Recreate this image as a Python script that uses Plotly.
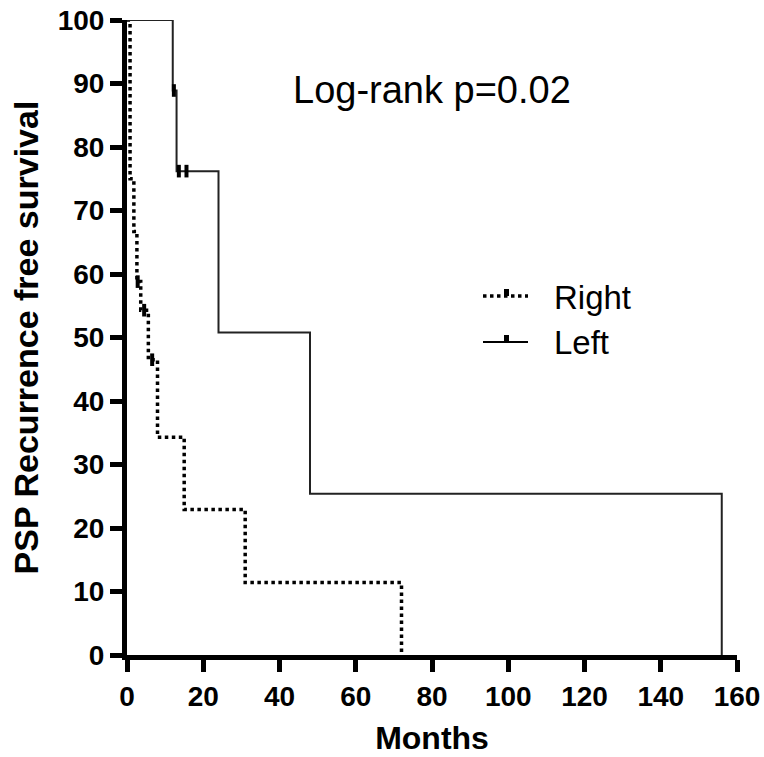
import plotly.graph_objects as go

# Kaplan-Meier step data (months, % recurrence-free)
right_t = [0, 0.8, 1.8, 2.6, 3.6, 5.6, 8, 15, 31, 72]
right_s = [100, 75, 66.7, 58.8, 54.3, 46.5, 34.3, 22.9, 11.4, 0]
right_cens_t = [2.8, 4.5, 6.6]
right_cens_s = [58.8, 54.3, 46.5]

left_t = [0, 12, 13, 24, 48, 156]
left_s = [100, 88.9, 76.2, 50.8, 25.4, 0]
left_cens_t = [12.3, 13.6, 15.6]
left_cens_s = [88.9, 76.2, 76.2]

x_ticks = [0, 20, 40, 60, 80, 100, 120, 140, 160]
y_ticks = [0, 10, 20, 30, 40, 50, 60, 70, 80, 90, 100]

FONT = "Liberation Sans"

fig = go.Figure()
fig.add_trace(go.Scatter(x=right_t, y=right_s, mode="lines", line_shape="hv",
                         line=dict(color="black", width=3.5, dash="dot"), name="Right",
                         showlegend=False))
fig.add_trace(go.Scatter(x=right_cens_t, y=right_cens_s, mode="markers",
                         marker=dict(symbol="line-ns", size=9, line=dict(color="black", width=4)),
                         showlegend=False))
fig.add_trace(go.Scatter(x=left_t, y=left_s, mode="lines", line_shape="hv",
                         line=dict(color="#222", width=2), name="Left", showlegend=False))
fig.add_trace(go.Scatter(x=left_cens_t, y=left_cens_s, mode="markers",
                         marker=dict(symbol="line-ns", size=9, line=dict(color="black", width=4)),
                         showlegend=False))

# Manual legend (paper coords; plot area spans page px x 127..737, y 20..655)
fig.add_shape(type="line", xref="paper", yref="paper", x0=(483-127)/610, x1=(528-127)/610,
              y0=(655-296)/635, y1=(655-296)/635, line=dict(color="black", width=3.5, dash="dot"))
fig.add_shape(type="line", xref="paper", yref="paper", x0=(483-127)/610, x1=(528-127)/610,
              y0=(655-342)/635, y1=(655-342)/635, line=dict(color="black", width=2))
for yy in (296, 342):
    fig.add_shape(type="rect", xref="paper", yref="paper",
                  x0=(504-127)/610, x1=(509-127)/610,
                  y0=(655-yy)/635, y1=(655-yy+7)/635,
                  fillcolor="black", line=dict(width=0))
fig.add_annotation(text="Right", xref="paper", yref="paper", x=(552-127)/610, y=(655-297)/635,
                   xanchor="left", yanchor="middle", showarrow=False,
                   font=dict(family=FONT, size=33, color="black"))
fig.add_annotation(text="Left", xref="paper", yref="paper", x=(552-127)/610, y=(655-342)/635,
                   xanchor="left", yanchor="middle", showarrow=False,
                   font=dict(family=FONT, size=33, color="black"))
fig.add_annotation(text="Log-rank p=0.02", xref="paper", yref="paper", x=(432-127)/610,
                   y=(655-90)/635, xanchor="center", yanchor="middle", showarrow=False,
                   font=dict(family=FONT, size=38, color="black"))

fig.update_layout(
    width=764, height=757,
    margin=dict(l=127, r=27, t=20, b=102, autoexpand=False),
    plot_bgcolor="white", paper_bgcolor="white",
    showlegend=False,
)
fig.update_xaxes(range=[0, 160], tickvals=x_ticks, showgrid=False, zeroline=False,
                 automargin=False, ticklabeloverflow="allow",
                 showline=True, linecolor="black", linewidth=5,
                 ticks="outside", ticklen=12, tickwidth=5, tickcolor="black",
                 tickfont=dict(family=FONT, size=28, color="black", weight="bold"),
                 title=dict(text="Months", font=dict(family=FONT, size=32, color="black", weight="bold"),
                            standoff=18))
fig.update_yaxes(range=[0, 100], tickvals=y_ticks, showgrid=False, zeroline=False,
                 automargin=False, ticklabeloverflow="allow",
                 showline=True, linecolor="black", linewidth=5,
                 ticks="outside", ticklen=12, tickwidth=5, tickcolor="black",
                 tickfont=dict(family=FONT, size=28, color="black", weight="bold"),
                 title=dict(text="PSP Recurrence free survival",
                            font=dict(family=FONT, size=34, color="black", weight="bold"),
                            standoff=10))

fig.write_html("out.html",
               config={"displayModeBar": False},
               post_script="document.body.style.margin='0px';"
                           "document.documentElement.style.overflow='hidden';"
                           "document.body.style.overflow='hidden';")
